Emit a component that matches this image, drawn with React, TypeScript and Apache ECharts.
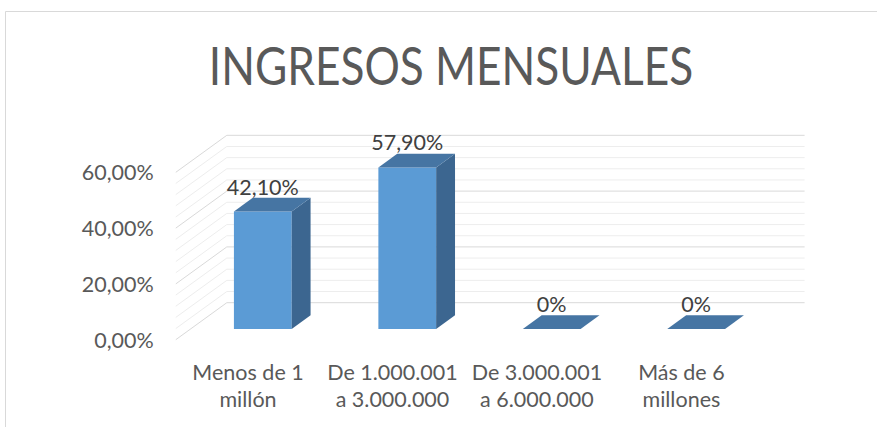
import React, { useEffect, useRef } from "react";
import * as echarts from "echarts";

const chartTitle = "INGRESOS MENSUALES";
const categories = [
  "Menos de 1\nmillón",
  "De 1.000.001\na 3.000.000",
  "De 3.000.001\na 6.000.000",
  "Más de 6\nmillones",
];
const values = [42.1, 57.9, 0, 0];
const yTicks = [0, 20, 40, 60];
const minorPerMajor = 5;

const FONT = "Lato, 'Open Sans', sans-serif";
const TEXT = "#595959";
const DEPTH: [number, number] = [51, -37];
const BAR_FRONT = 0.29;
const BAR_BACK = 0.66;
const BAR_WIDTH = 0.4;
const FRONT = "#5B9BD5";
const SIDE = "#3C6690";
const TOP = "#4675A3";

function fmtValue(v: number) {
  return v === 0 ? "0%" : v.toFixed(2).replace(".", ",") + "%";
}
function fmtAxis(v: number) {
  return v.toFixed(2).replace(".", ",") + "%";
}

export default function App() {
  const ref = useRef<HTMLDivElement>(null);
  useEffect(() => {
    if (!ref.current) return;
    const chart = echarts.init(ref.current, null, { renderer: "svg" });
    const yMin = yTicks[0];
    const yMax = yTicks[yTicks.length - 1];
    const step = (yTicks[1] - yTicks[0]) / minorPerMajor;
    const nLines = Math.round((yMax - yMin) / step);

    chart.setOption({
      animation: false,
      backgroundColor: "#ffffff",
      graphic: [
        {
          type: "rect",
          silent: true,
          shape: { x: 5.5, y: 11.5, width: 1000, height: 1000 },
          style: { fill: "none", stroke: "#D9D9D9", lineWidth: 1 },
        },
        {
          type: "text",
          x: 451,
          y: 65,
          scaleX: 0.85,
          style: {
            text: chartTitle,
            fill: TEXT,
            fontSize: 52,
            fontFamily: FONT,
            align: "center",
            verticalAlign: "middle",
          },
        },
      ],
      grid: {
        left: 175.8,
        right: 123.4,
        top: 172.3,
        bottom: 87.3,
        containLabel: false,
        outerBoundsMode: "none",
      },
      xAxis: {
        type: "category",
        data: categories,
        axisLine: { show: false },
        axisTick: { show: false },
        splitLine: { show: false },
        axisLabel: {
          interval: 0,
          color: TEXT,
          fontSize: 21.5,
          fontFamily: FONT,
          lineHeight: 27,
          margin: 19,
        },
      },
      yAxis: {
        type: "value",
        min: yMin,
        max: yMax,
        interval: yTicks[1] - yTicks[0],
        axisLine: { show: false },
        axisTick: { show: false },
        splitLine: { show: false },
        axisLabel: {
          color: TEXT,
          fontSize: 21.5,
          fontFamily: FONT,
          margin: 22,
          formatter: (v: number) => fmtAxis(v),
        },
      },
      series: [
        {
          type: "custom",
          z: 1,
          silent: true,
          data: [[0, 0]],
          renderItem: (params: any, api: any) => {
            const cs = params.coordSys;
            const left = cs.x;
            const right = cs.x + cs.width;
            const minor: any[] = [];
            const major: any[] = [];
            for (let i = 0; i <= nLines; i++) {
              const v = yMin + i * step;
              const y = api.coord([0, v])[1];
              const isMajor = i % minorPerMajor === 0;
              const color = isMajor ? "#D9D9D9" : "#EDEDED";
              const arr = isMajor ? major : minor;
              arr.push({
                type: "line",
                shape: { x1: left, y1: y, x2: left + DEPTH[0], y2: y + DEPTH[1] },
                style: { stroke: color, lineWidth: 1 },
              });
              arr.push({
                type: "line",
                shape: {
                  x1: left + DEPTH[0],
                  y1: y + DEPTH[1],
                  x2: right + DEPTH[0],
                  y2: y + DEPTH[1],
                },
                style: { stroke: color, lineWidth: 1 },
              });
            }
            return { type: "group", children: [...minor, ...major] };
          },
        },
        {
          type: "custom",
          z: 2,
          data: values.map((v, i) => [i, v]),
          renderItem: (params: any, api: any) => {
            const idx = api.value(0);
            const v = api.value(1);
            const base = api.coord([idx, 0]);
            const top = api.coord([idx, v]);
            const band = api.size([1, 0])[0];
            const w = band * BAR_WIDTH;
            const fx = DEPTH[0] * BAR_FRONT;
            const fy = DEPTH[1] * BAR_FRONT;
            const ddx = DEPTH[0] * (BAR_BACK - BAR_FRONT);
            const ddy = DEPTH[1] * (BAR_BACK - BAR_FRONT);
            const xl = base[0] - w / 2 + fx;
            const xr = base[0] + w / 2 + fx;
            const yb = base[1] + fy;
            const yt = top[1] + fy;
            return {
              type: "group",
              children: [
                {
                  type: "polygon",
                  shape: { points: [[xl, yb], [xr, yb], [xr, yt], [xl, yt]] },
                  style: { fill: FRONT },
                },
                {
                  type: "polygon",
                  shape: {
                    points: [[xr, yb], [xr + ddx, yb + ddy], [xr + ddx, yt + ddy], [xr, yt]],
                  },
                  style: { fill: SIDE },
                },
                {
                  type: "polygon",
                  shape: {
                    points: [[xl, yt], [xr, yt], [xr + ddx, yt + ddy], [xl + ddx, yt + ddy]],
                  },
                  style: { fill: TOP },
                },
                {
                  type: "text",
                  x: base[0] + fx,
                  y: yt - 25,
                  style: {
                    text: fmtValue(v),
                    fill: "#404040",
                    fontSize: 21.5,
                    fontFamily: FONT,
                    align: "center",
                    verticalAlign: "middle",
                  },
                },
              ],
            };
          },
        },
      ],
    });
    return () => chart.dispose();
  }, []);
  return (
    <div
      ref={ref}
      style={{ position: "fixed", left: 0, top: 0, width: 877, height: 427, background: "#fff" }}
    />
  );
}
